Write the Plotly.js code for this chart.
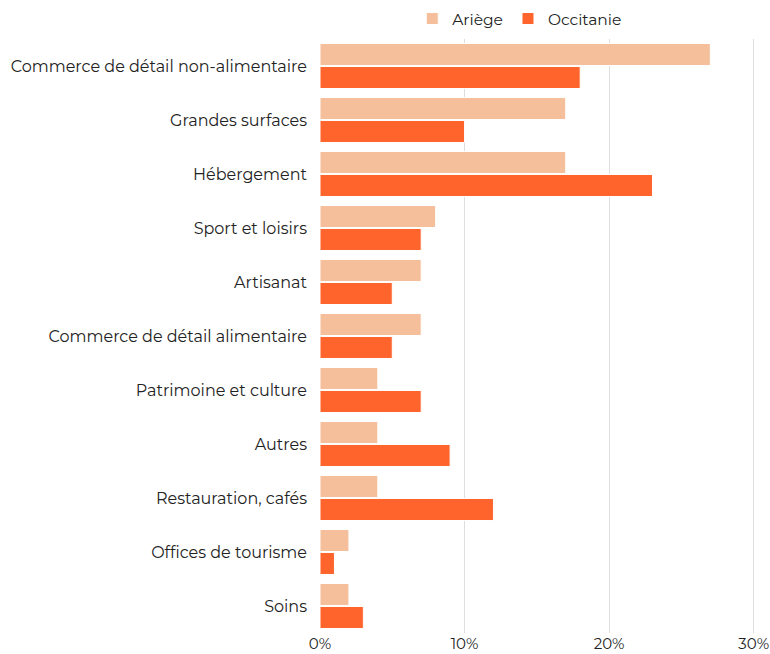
<!DOCTYPE html>
<html><head><meta charset="utf-8">
<script src="https://cdn.plot.ly/plotly-3.0.1.min.js"></script>
<style>html,body{margin:0;padding:0;background:#fff}</style>
</head><body>
<div id="chart" style="width:770px;height:654px"></div>
<script>
const categories = ["Commerce de détail non-alimentaire","Grandes surfaces","Hébergement","Sport et loisirs","Artisanat","Commerce de détail alimentaire","Patrimoine et culture","Autres","Restauration, cafés","Offices de tourisme","Soins"];
const ariege = [27,17,17,8,7,7,4,4,4,2,2];
const occitanie = [18,10,23,7,5,5,7,9,12,1,3];
const xTicks = [0,10,20,30];
const xTickLabels = ["0%","10%","20%","30%"];

const font = "Montserrat, 'Open Sans', sans-serif";
const traces = [
  {type:"bar", orientation:"h", name:"Ariège", y:categories, x:ariege,
   marker:{color:"#F4BF9A", line:{color:"#ffffff", width:1}}},
  {type:"bar", orientation:"h", name:"Occitanie", y:categories, x:occitanie,
   marker:{color:"#FF642D", line:{color:"#ffffff", width:1}}}
];
const layout = {
  width:770, height:654,
  margin:{l:320, r:12, t:39, b:21},
  barmode:"group", bargap:0.15, bargroupgap:0.04,
  font:{family:font, size:16, color:"#222"},
  showlegend:true,
  legend:{orientation:"h", x:0.675, xref:"container", xanchor:"center", y:0.997, yref:"container", yanchor:"top", font:{size:15.5}, itemwidth:30, traceorder:"normal"},
  xaxis:{range:[0,30.3], tickvals:xTicks, ticktext:xTickLabels, showgrid:true, gridcolor:"#dedede", zeroline:false, showline:false, ticks:"", tickfont:{size:15}, ticklabelstandoff:0, fixedrange:true},
  yaxis:{autorange:"reversed", ticks:"", ticklen:0, showline:false, tickfont:{size:16}, ticklabelstandoff:12, automargin:false},
  plot_bgcolor:"#fff", paper_bgcolor:"#fff"
};
Plotly.newPlot("chart", traces, layout, {displayModeBar:false, staticPlot:true});
</script>
</body></html>
